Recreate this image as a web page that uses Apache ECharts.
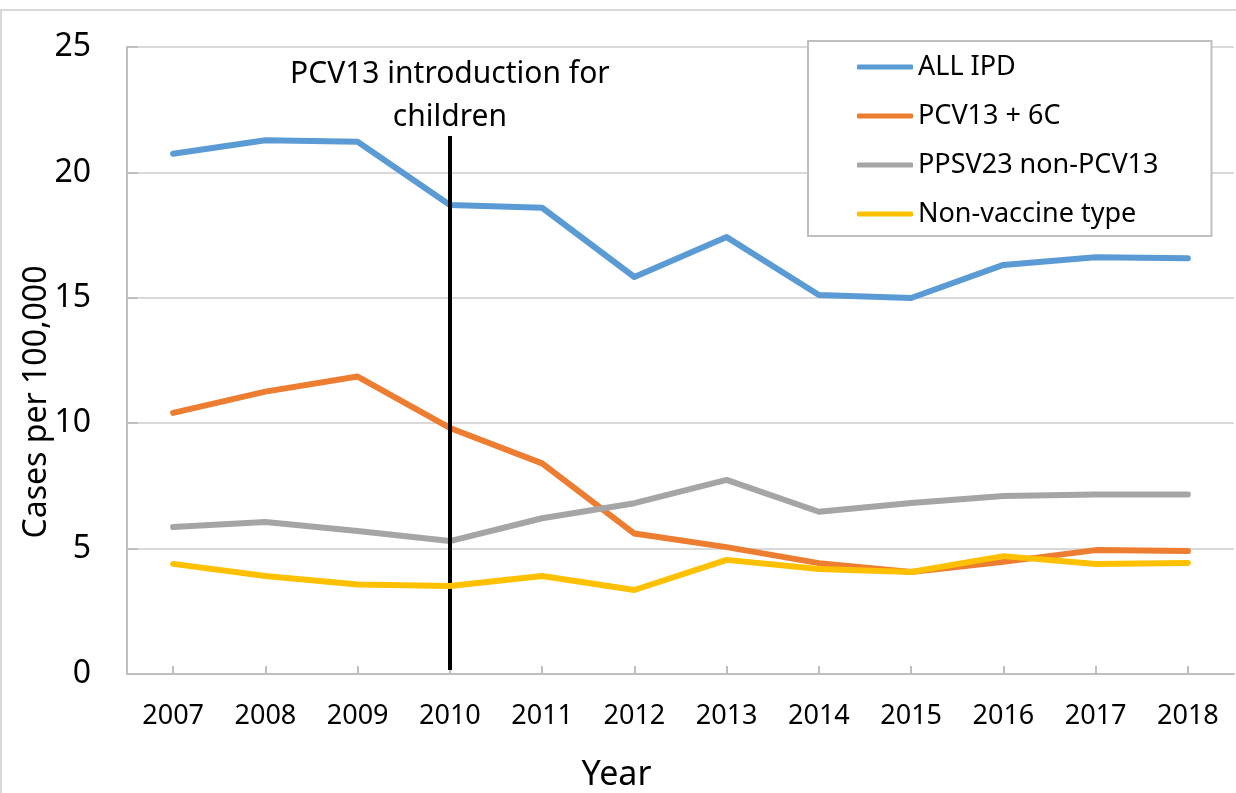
<!DOCTYPE html>
<html>
<head>
<meta charset="utf-8">
<script src="https://cdn.jsdelivr.net/npm/echarts@6/dist/echarts.min.js"></script>
<style>
html,body{margin:0;padding:0;background:#fff;}
#chart{width:1236px;height:793px;}
</style>
</head>
<body>
<div id="chart"></div>
<script>
const years = ['2007','2008','2009','2010','2011','2012','2013','2014','2015','2016','2017','2018'];
const allIPD = [20.74, 21.28, 21.22, 18.70, 18.59, 15.83, 17.42, 15.11, 14.99, 16.31, 16.62, 16.58];
const pcv13 = [10.41, 11.26, 11.86, 9.81, 8.40, 5.60, 5.06, 4.42, 4.07, 4.47, 4.94, 4.90];
const ppsv23 = [5.86, 6.06, 5.70, 5.30, 6.21, 6.81, 7.74, 6.47, 6.82, 7.10, 7.16, 7.16];
const nonVaccine = [4.39, 3.91, 3.57, 3.51, 3.91, 3.35, 4.55, 4.19, 4.07, 4.70, 4.39, 4.43];
const seriesNames = ['ALL IPD', 'PCV13 + 6C', 'PPSV23 non-PCV13', 'Non-vaccine type'];
const seriesColors = ['#5b9bd5', '#ed7d31', '#a5a5a5', '#ffc000'];
const yTicks = [0, 5, 10, 15, 20, 25];
const introYear = '2010';
const introLineRange = [0.16, 21.45];
const introText = 'PCV13 introduction for\nchildren';

const FONT = '"Noto Sans", "Open Sans", sans-serif';
const chart = echarts.init(document.getElementById('chart'));
const dataSets = [allIPD, pcv13, ppsv23, nonVaccine];

const series = dataSets.map((d, i) => ({
  name: seriesNames[i],
  type: 'line',
  data: d,
  showSymbol: false,
  symbol: 'none',
  lineStyle: { color: seriesColors[i], width: 6, cap: 'round', join: 'round' },
  itemStyle: { color: seriesColors[i] },
  z: 2 + i
}));
series.push({
  name: 'intro',
  type: 'line',
  data: [],
  z: 10,
  markLine: {
    silent: true,
    symbol: 'none',
    lineStyle: { color: '#000', width: 4, type: 'solid' },
    label: {
      show: true,
      position: 'end',
      formatter: introText,
      fontFamily: FONT,
      fontSize: 30,
      lineHeight: 43,
      color: '#000',
      distance: -3,
      align: 'center'
    },
    data: [[{ coord: [introYear, introLineRange[0]] }, { coord: [introYear, introLineRange[1]] }]]
  }
});

chart.setOption({
  animation: false,
  backgroundColor: '#fff',
  textStyle: { fontFamily: FONT },
  graphic: [{
    type: 'rect',
    shape: { x: 1, y: 10, width: 1400, height: 900 },
    style: { fill: 'none', stroke: '#d9d9d9', lineWidth: 2 },
    silent: true,
    z: -10
  }],
  grid: { left: 127, right: 2, top: 47, bottom: 119, containLabel: false, outerBoundsMode: 'none' },
  legend: {
    data: seriesNames,
    orient: 'vertical',
    left: 808,
    top: 41,
    icon: 'roundRect',
    itemWidth: 56,
    itemHeight: 5,
    itemGap: 19,
    padding: [11, 53, 7, 49],
    backgroundColor: '#fff',
    borderColor: '#bfbfbf',
    borderWidth: 2,
    textStyle: { fontFamily: FONT, fontSize: 27, color: '#000', lineHeight: 30 },
    z: 20
  },
  xAxis: {
    type: 'category',
    data: years,
    boundaryGap: true,
    name: 'Year',
    nameLocation: 'middle',
    nameGap: 84,
    nameMoveOverlap: false,
    nameTextStyle: { fontFamily: FONT, fontSize: 34, color: '#000', padding: [0, 128, 0, 0] },
    axisLine: { lineStyle: { color: '#bfbfbf', width: 2 } },
    axisTick: { show: true, inside: true, length: 8, alignWithLabel: true, lineStyle: { color: '#bfbfbf', width: 2 } },
    axisLabel: { fontFamily: FONT, fontSize: 27, color: '#000', margin: 29 },
    splitLine: { show: false }
  },
  yAxis: {
    type: 'value',
    min: yTicks[0],
    max: yTicks[yTicks.length - 1],
    interval: yTicks[1] - yTicks[0],
    name: 'Cases per 100,000',
    nameLocation: 'middle',
    nameGap: 74,
    nameMoveOverlap: false,
    nameTextStyle: { fontFamily: FONT, fontSize: 32, color: '#000', padding: [0, 83, 0, 0] },
    axisLine: { show: true, lineStyle: { color: '#bfbfbf', width: 2 } },
    axisTick: { show: true, inside: true, length: 11, lineStyle: { color: '#bfbfbf', width: 2 } },
    axisLabel: { fontFamily: FONT, fontSize: 32, color: '#000', margin: 36 },
    splitLine: { show: true, lineStyle: { color: '#d9d9d9', width: 2 } }
  },
  series: series
});
</script>
</body>
</html>
